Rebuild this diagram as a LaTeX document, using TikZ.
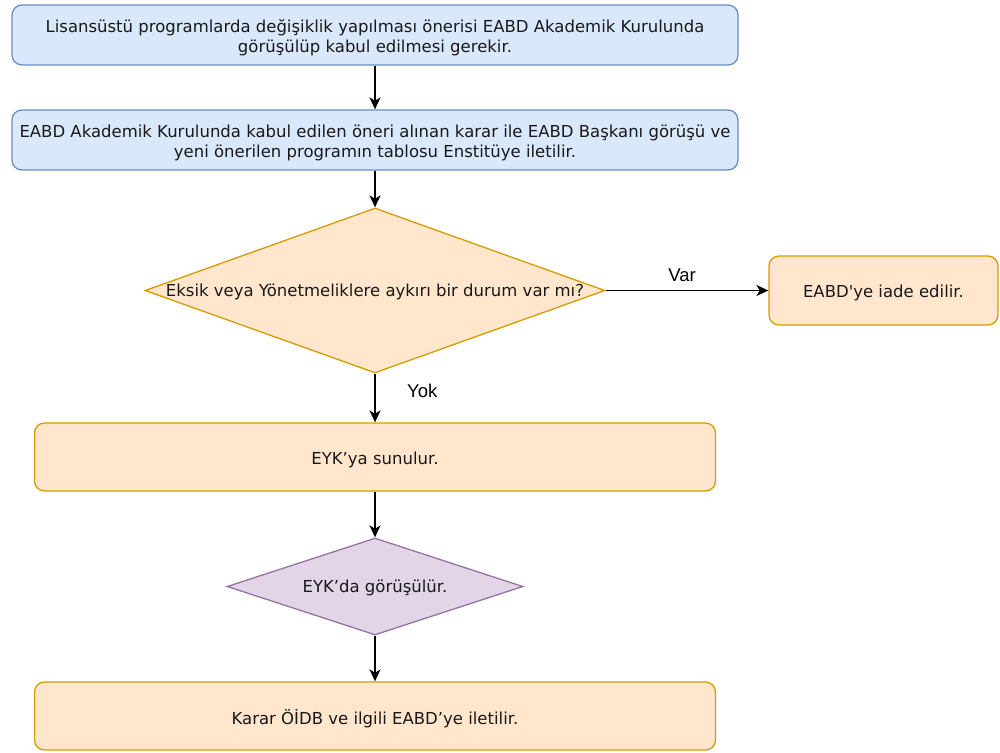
\documentclass[tikz,border=0pt]{standalone}
\usepackage{fontspec}
\setmainfont{DejaVu Sans}
\newfontfamily\lblfont{Liberation Sans}
\usetikzlibrary{shapes.geometric,arrows.meta}
\definecolor{bluefill}{HTML}{DAE8FC}
\definecolor{bluedraw}{HTML}{6C8EBF}
\definecolor{orfill}{HTML}{FFE6CC}
\definecolor{ordraw}{HTML}{D79B00}
\definecolor{pufill}{HTML}{E1D5E7}
\definecolor{pudraw}{HTML}{9673A6}
\begin{document}
\begin{tikzpicture}[x=1pt,y=-1pt,
  every node/.style={font=\fontsize{16.5}{20}\selectfont, text=black!90},
  bluebox/.style={draw=bluedraw, fill=bluefill, line width=1.3pt, rounded corners=10pt, minimum width=726pt, minimum height=60pt, inner sep=0pt},
  orbox/.style={draw=ordraw, fill=orfill, line width=1.3pt, rounded corners=10pt, minimum height=68pt, inner sep=0pt},
  orshape/.style={diamond, draw=ordraw, fill=orfill, line width=1.3pt, inner sep=0pt},
  pushape/.style={diamond, draw=pudraw, fill=pufill, line width=1.3pt, inner sep=0pt},
  txt/.style={align=center, inner sep=0pt},
  conn/.style={line width=1.8pt, -{Stealth[length=12pt,width=11pt,inset=3.5pt]}},
  lbl/.style={font=\lblfont\fontsize{18.5}{20}\selectfont, text=black}
]
\useasboundingbox (0,0) rectangle (1000,752);
\node[bluebox] (b1) at (375,35) {};
\node[txt] (b1t) at ([yshift=-2.5pt]b1.center) {Lisansüstü programlarda değişiklik yapılması önerisi EABD Akademik Kurulunda\\görüşülüp kabul edilmesi gerekir.};
\node[bluebox] (b2) at (375,140) {};
\node[txt] (b2t) at ([yshift=-2.5pt]b2.center) {EABD Akademik Kurulunda kabul edilen öneri alınan karar ile EABD Başkanı görüşü ve\\yeni önerilen programın tablosu Enstitüye iletilir.};
\node[orshape, minimum width=460pt, minimum height=165pt] (d1) at (375,290.5) {};
\node[txt] (d1t) at ([yshift=-1pt]d1.center) {Eksik veya Yönetmeliklere aykırı bir durum var mı?};
\node[orbox, minimum width=229pt, minimum height=69pt] (r) at (883.5,290.5) {};
\node[txt] (rt) at ([yshift=-2pt]r.center) {EABD\textquotesingle ye iade edilir.};
\node[orbox, minimum width=681pt] (b3) at (375,457) {};
\node[txt] (b3t) at ([yshift=-2.5pt]b3.center) {EYK’ya sunulur.};
\node[pushape, minimum width=296pt, minimum height=97pt] (d2) at (375,586.5) {};
\node[txt] (d2t) at ([yshift=-1pt]d2.center) {EYK’da görüşülür.};
\node[orbox, minimum width=681pt] (b4) at (375,716) {};
\node[txt] (b4t) at ([yshift=-2.5pt]b4.center) {Karar ÖİDB ve ilgili EABD’ye iletilir.};
\draw[conn] (b1.south) -- (b2.north);
\draw[conn] (b2.south) -- (d1.north);
\draw[conn] (d1.east) -- node[lbl, above=5pt, pos=0.47] {Var} (r.west);
\draw[conn] (d1.south) -- node[lbl, right=28pt, pos=0.36] {Yok} (b3.north);
\draw[conn] (b3.south) -- (d2.north);
\draw[conn] (d2.south) -- (b4.north);
\end{tikzpicture}
\end{document}
